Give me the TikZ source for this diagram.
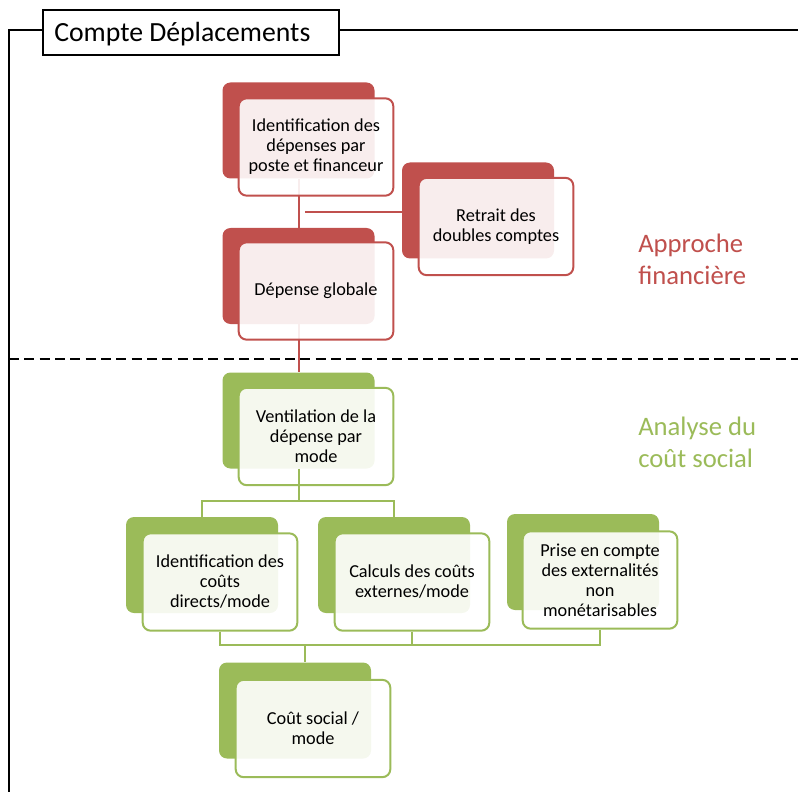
\documentclass[tikz,border=0pt]{standalone}
\usepackage{fontspec}
\setmainfont{Carlito}
\definecolor{accR}{HTML}{C0504D}
\definecolor{accG}{HTML}{9BBB59}
\tikzset{
  backbox/.style={rounded corners=6pt, minimum width=114pt, minimum height=72pt, inner sep=0pt, draw=none},
  frontbox/.style={rounded corners=6pt, minimum width=116pt, minimum height=73pt, inner sep=2pt,
     fill=white, fill opacity=0.9, text opacity=1, line width=1.5pt, align=center,
     font=\fontsize{13.7}{15}\selectfont, text=black},
  conn/.style={line width=1.5pt},
  frame/.style={line width=1.3pt, black},
  sidelabel/.style={anchor=north west, align=left, inner sep=0pt, font=\fontsize{20}{24}\selectfont}
}
\begin{document}
\begin{tikzpicture}[x=0.75pt, y=-0.75pt]
\useasboundingbox (0,0) rectangle (798,791);
% frame
\node[draw, line width=1.1pt, minimum width=222pt, minimum height=33.5pt, inner sep=0pt] (title) at (191,32.5) {};
\node[anchor=west, inner sep=0pt, font=\fontsize{20.8}{24}\selectfont] (titletext) at (54,34) {Compte Déplacements};
\coordinate (fbot) at (9,795);
\coordinate (fright) at (802,30);
\draw[frame] (fbot) -- (9,30) -- (title.west |- 0,30);
\draw[frame] (title.east |- 0,30) -- (fright);
\coordinate (dl) at (9,359);
\coordinate (dr) at (800,359);
\draw[line width=1.3pt, dash pattern=on 7.5pt off 4pt] (dl) -- (dr);

% back boxes (red)
\node[backbox, fill=accR] (Ab) at (298.5,130.5) {};
\node[backbox, fill=accR] (Rb) at (478,210.5) {};
\node[backbox, fill=accR] (Db) at (298.5,276) {};
% back boxes (green)
\node[backbox, fill=accG] (Vb) at (298.5,420.5) {};
\node[backbox, fill=accG] (Ib) at (202,565) {};
\node[backbox, fill=accG] (Cb) at (394,565) {};
\node[backbox, fill=accG] (Pb) at (583,562) {};
\node[backbox, fill=accG] (Sb) at (295,710.5) {};

% connectors
\coordinate (rj) at (305,212.5);
\coordinate (h1) at (298.5,501);
\coordinate (h2) at (305,645);
\draw[conn, accR] (Ab.south) -- (Db.north);
\draw[conn, accR] (rj) -- (rj -| Rb.west);
\draw[conn, accR] (Db.south) -- (Vb.north);

% front boxes
\node[frontbox, draw=accR] (A) at (316,147) {Identification des\\dépenses par\\poste et financeur};
\node[frontbox, draw=accR] (R) at (496,226.5) {Retrait des\\doubles comptes};
\node[frontbox, draw=accR] (D) at (316,291) {Dépense globale};
\node[frontbox, draw=accG] (V) at (316,436.5) {Ventilation de la\\dépense par\\mode};

\draw[conn, accG] (Vb.south) -- (h1);
\draw[conn, accG] (Ib.north) |- (h1) -| (Cb.north);

\node[frontbox, draw=accG] (I) at (220,582) {Identification des\\coûts\\directs/mode};
\node[frontbox, draw=accG] (C) at (412,582) {Calculs des coûts\\externes/mode};
\node[frontbox, draw=accG] (P) at (600,580) {Prise en compte\\des externalités\\non\\monétarisables};

\draw[conn, accG] (I.south) |- (h2);
\draw[conn, accG] (P.south) |- (h2);
\draw[conn, accG] (C.south) -- (C.south |- h2);
\draw[conn, accG] (h2) -- (h2 |- Sb.north);

\node[frontbox, draw=accG] (S) at (313,728.5) {Coût social /\\mode};

% side labels
\node[sidelabel, text=accR] (lab1) at (638,234) {Approche\\financière};
\node[sidelabel, text=accG] (lab2) at (638,417) {Analyse du\\coût social};
\end{tikzpicture}
\end{document}
